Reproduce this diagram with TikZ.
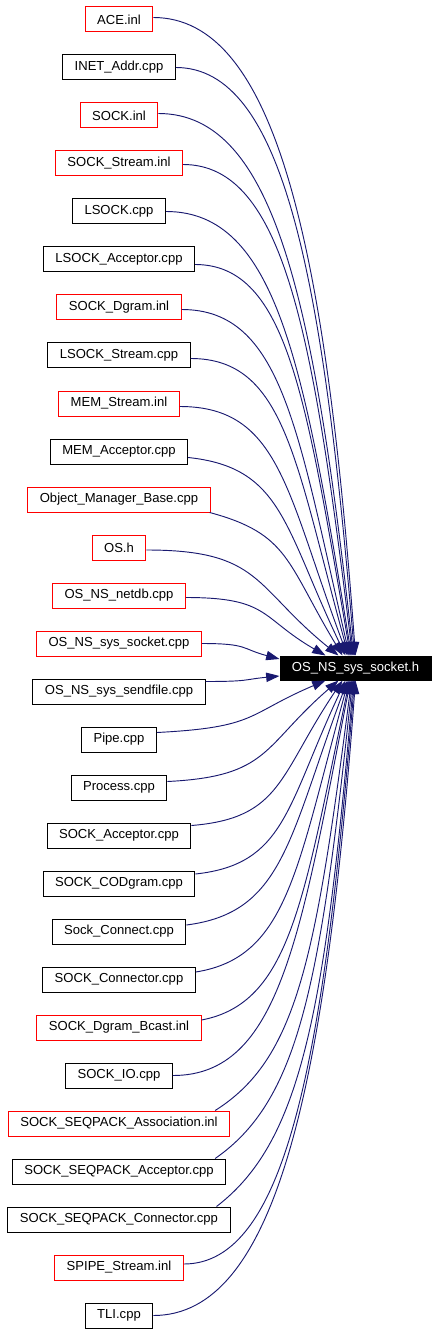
\documentclass[tikz,border=0pt]{standalone}
\usepackage{fontspec}
\setmainfont{Liberation Sans}
\usetikzlibrary{calc,arrows.meta}
\definecolor{edgeblue}{HTML}{191970}
\begin{document}
\begin{tikzpicture}[x=0.75pt,y=-0.75pt,
  srcbox/.style={draw=black,line width=0.75pt,inner xsep=9pt,inner ysep=0pt,minimum height=18.75pt,font=\fontsize{9.8pt}{12pt}\selectfont},
  tgtbox/.style={draw=black,fill=black,text=white,line width=0.75pt,minimum width=113.25pt,minimum height=18pt,inner sep=0pt,font=\fontsize{9.8pt}{12pt}\selectfont},
  edge/.style={draw=edgeblue,line width=0.7pt,-{Triangle[length=10pt,width=7pt]}}]
\useasboundingbox (0,0) rectangle (437,1333);
\node[tgtbox] (t) at (355.5,668) {OS\_NS\_sys\_socket.h};
\foreach \i/\c/\txt in {
  0/red/ACE.inl,
  1/black/INET\_Addr.cpp,
  2/red/SOCK.inl,
  3/red/SOCK\_Stream.inl,
  4/black/LSOCK.cpp,
  5/black/LSOCK\_Acceptor.cpp,
  6/red/SOCK\_Dgram.inl,
  7/black/LSOCK\_Stream.cpp,
  8/red/MEM\_Stream.inl,
  9/black/MEM\_Acceptor.cpp,
  10/red/Object\_Manager\_Base.cpp,
  11/red/OS.h,
  12/red/OS\_NS\_netdb.cpp,
  13/red/OS\_NS\_sys\_socket.cpp,
  14/black/OS\_NS\_sys\_sendfile.cpp,
  15/black/Pipe.cpp,
  16/black/Process.cpp,
  17/black/SOCK\_Acceptor.cpp,
  18/black/SOCK\_CODgram.cpp,
  19/black/Sock\_Connect.cpp,
  20/black/SOCK\_Connector.cpp,
  21/red/SOCK\_Dgram\_Bcast.inl,
  22/black/SOCK\_IO.cpp,
  23/red/SOCK\_SEQPACK\_Association.inl,
  24/black/SOCK\_SEQPACK\_Acceptor.cpp,
  25/black/SOCK\_SEQPACK\_Connector.cpp,
  26/red/SPIPE\_Stream.inl,
  27/black/TLI.cpp}{
  \node[srcbox,draw=\c] (n\i) at (119,{19.5+48*\i}) {\txt};
}
% start points of the connectors on the source boxes (last value: initial slope share)
\foreach \i/\a/\ox/\oy/\k in {0/east/0/-2/0,1/east/0/0/0,2/east/0/-2/0,3/east/0/1/0,4/east/0/0/0,
  5/east/0/5/0,6/east/0/2/0,7/east/0/3/0,8/east/0/3/0,9/east/0/6/0.05,10/south east/-1/0/0.15,
  11/east/0/2.5/0,12/east/0/2/0,13/east/0/0/0,14/east/0/-10/0,15/east/0/-7/0.1,16/east/0/-6/0.05,
  17/east/0/-10/0.05,18/east/0/-9.5/0.05,19/east/0/-6.5/0.05,20/east/0/-7.5/0.05,21/east/0/-7.5/0.05,
  22/east/0/0/0,23/north east/-15/0/0.12,24/north east/-11/0/0.12,25/north east/-14/0/0.12,
  26/east/0/-3.5/0,27/east/0/0/0}{
  \coordinate (s\i) at ($(n\i.\a)+(\ox,\oy)$);
  \expandafter\xdef\csname kk\i\endcsname{\k}
}
% arrow tips on the target box
\foreach \i/\dx in {0/76,1/75,2/74,3/73,4/72,5/71,6/70,7/69,8/68,9/66,10/63,11/59,12/46}{
  \coordinate (tip\i) at ($(t.north west)+(\dx,0)$);
}
\coordinate (tip13) at ($(t.west)+(0,-9)$);
\coordinate (tip14) at ($(t.west)+(0,8)$);
\foreach \i/\dx in {15/46,16/59,17/63,18/66,19/68,20/69,21/70,22/71,23/72,24/73,25/74,26/75,27/76}{
  \coordinate (tip\i) at ($(t.south west)+(\dx,0)$);
}
\foreach \i in {0,...,27}{
  \edef\kval{\csname kk\i\endcsname}
  \draw[edge] let \p1=(s\i), \p2=(tip\i), \n1={abs(\y2-\y1)}, \n2={0.15+0.35*(1-\n1/477.75)} in
    (\p1) .. controls ({\x1+0.6*(\x2-\x1)},{\y1+\kval*(\y2-\y1)}) and ({\x2-\n2*(\x2-\x1)},{\y1+0.35*(\y2-\y1)}) .. (\p2);
}
\end{tikzpicture}
\end{document}
